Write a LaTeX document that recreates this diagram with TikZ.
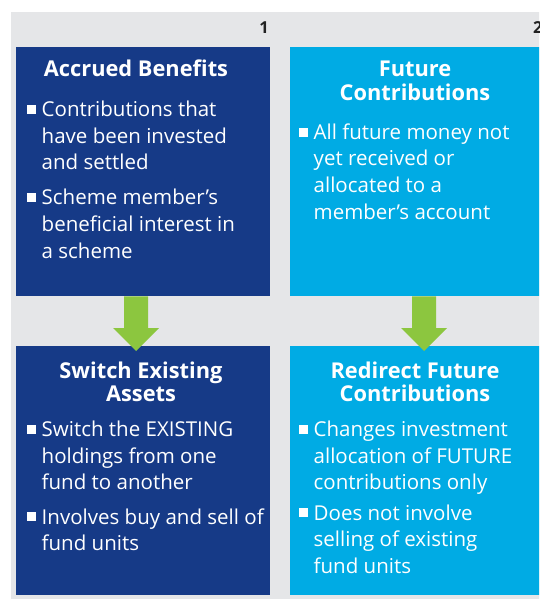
\documentclass[tikz,border=0pt]{standalone}
\usepackage{fontspec}
\setmainfont{Open Sans}
\usetikzlibrary{calc}
\definecolor{eydark}{HTML}{163A87}
\definecolor{eylight}{HTML}{00ABE4}
\definecolor{eygray}{HTML}{E5E6E8}
\definecolor{eygreen}{HTML}{8CC63F}
\definecolor{eytext}{HTML}{222222}
\tikzset{
  panel/.style={rectangle, inner sep=0pt, anchor=north west, minimum width=#1, minimum height=249pt},
  darkpanel/.style={panel=254pt, fill=eydark},
  lightpanel/.style={panel=268pt, fill=eylight},
  title/.style={inner sep=0pt, anchor=base, text=white},
  body/.style={inner sep=0pt, anchor=base west, text=white},
  bul/.style={rectangle, fill=white, inner sep=0pt, minimum width=9pt, minimum height=9pt, anchor=south west},
  colnum/.style={inner sep=0pt, text=eytext, font=\fontsize{16.5}{18}\selectfont\bfseries},
  blockarrow/.style={fill=eygreen}
}
\newcommand{\ttl}[1]{\parbox[t]{250pt}{\fontsize{21.8}{23.6}\selectfont\bfseries\centering #1\par}}
\newcommand{\bdy}[1]{\parbox[t]{240pt}{\fontsize{20.5}{26.6}\selectfont\raggedright #1\par}}
\begin{document}
\begin{tikzpicture}[x=1pt,y=-1pt]
\useasboundingbox (0,0) rectangle (539,601);
\clip (0,0) rectangle (539,601);
\fill[white] (0,0) rectangle (539,601);
\fill[eygray] (11,12) rectangle (560,599);
% column numbers
\node[colnum, anchor=base east] (n1) at (269,33.3) {1};
\node[colnum, anchor=base west] (n2) at (533,33.3) {2};
% panels
\node[darkpanel] (b1) at (16,47) {};
\node[lightpanel] (b2) at (290,47) {};
\node[darkpanel] (b3) at (16,346) {};
\node[lightpanel] (b4) at (290,346) {};
% arrows
\path (b1.south west) ++(120,0) coordinate (a1s);
\path (b3.north west) ++(120,5) coordinate (a1e);
\path (b2.south west) ++(134,0) coordinate (a2s);
\path (b4.north west) ++(134,5) coordinate (a2e);
\foreach \s/\e in {a1s/a1e, a2s/a2e}{
  \fill[blockarrow] ($(\s)+(-12,0)$) -- ($(\s)+(12,0)$) -- ($(\e)+(12,-23)$) -- ($(\e)+(23,-23)$)
     -- (\e) -- ($(\e)+(-23,-23)$) -- ($(\e)+(-12,-23)$) -- cycle;
}
% titles
\node[title] (t1) at (136,76.7) {\ttl{Accrued Benefits}};
\node[title] (t2) at (415,76.7) {\ttl{Future\\Contributions}};
\node[title] (t3) at (141,378) {\ttl{Switch Existing\\Assets}};
\node[title] (t4) at (415,378) {\ttl{Redirect Future\\Contributions}};
% bodies
\node[body] (p1a) at (41.5,116.7) {\bdy{Contributions that\\have been invested\\and settled}};
\node[body] (p1b) at (41.5,205) {\bdy{Scheme member’s\\beneficial interest in\\a scheme}};
\node[body] (p2a) at (313.5,139.3) {\bdy{All future money not\\yet received or\\allocated to a\\member’s account}};
\node[body] (p3a) at (41.5,436.7) {\bdy{Switch the EXISTING\\holdings from one\\fund to another}};
\node[body] (p3b) at (41.5,524) {\bdy{Involves buy and sell of\\fund units}};
\node[body] (p4a) at (313.5,436.7) {\bdy{Changes investment\\allocation of FUTURE\\contributions only}};
\node[body] (p4b) at (313.5,520) {\bdy{Does not involve\\selling of existing\\fund units}};
% bullets
\foreach \p in {p1a,p1b,p2a,p3a,p3b,p4a,p4b}{
  \node[bul] (q\p) at ($(\p.base west)+(-14.5,-2.4)$) {};
}
\end{tikzpicture}
\end{document}
